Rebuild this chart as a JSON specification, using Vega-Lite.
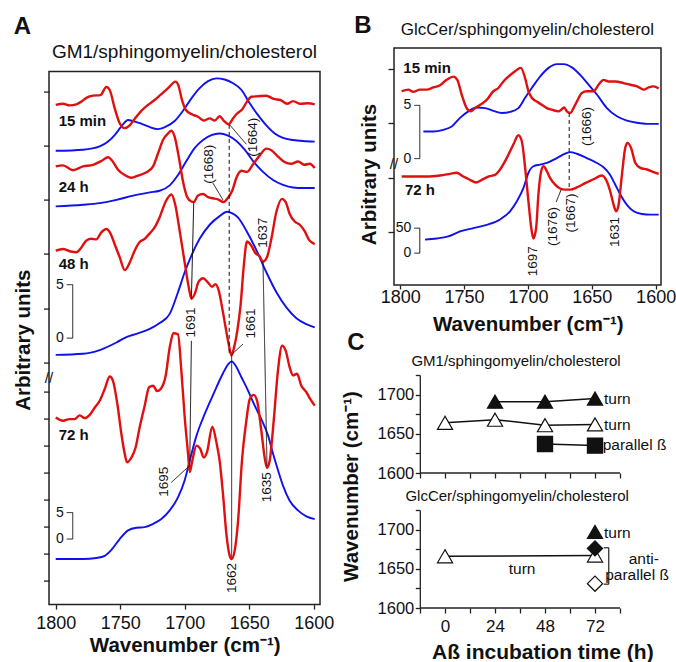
{
  "$schema": "https://vega.github.io/schema/vega-lite/v6.json",
  "padding": {"left": 12, "top": 12, "right": 0, "bottom": 0},
  "config": {
    "font": "Liberation Sans",
    "view": {"stroke": null},
    "axis": {"grid": false, "domainColor": "#222", "tickColor": "#222", "labelColor": "#111", "titleColor": "#111", "labelFont": "Liberation Sans", "titleFont": "Liberation Sans", "domainWidth": 1.3, "tickWidth": 1.3, "labelFlush": false},
    "text": {"font": "Liberation Sans", "color": "#111"}
  },
  "datasets": {
    "specA": [
      {"s":"15 min","k":"d2","wn":1800.0,"v":88.1},{"s":"15 min","k":"d2","wn":1794.3,"v":88.3},{"s":"15 min","k":"d2","wn":1789.2,"v":88.0},{"s":"15 min","k":"d2","wn":1784.0,"v":88.2},{"s":"15 min","k":"d2","wn":1780.1,"v":88.7},{"s":"15 min","k":"d2","wn":1776.2,"v":89.4},{"s":"15 min","k":"d2","wn":1771.1,"v":89.8},{"s":"15 min","k":"d2","wn":1765.4,"v":89.9},{"s":"15 min","k":"d2","wn":1760.7,"v":91.4},{"s":"15 min","k":"d2","wn":1758.2,"v":90.9},{"s":"15 min","k":"d2","wn":1754.3,"v":87.5},{"s":"15 min","k":"d2","wn":1750.4,"v":84.7},{"s":"15 min","k":"d2","wn":1746.5,"v":83.8},{"s":"15 min","k":"d2","wn":1742.6,"v":84.3},{"s":"15 min","k":"d2","wn":1738.8,"v":85.5},{"s":"15 min","k":"d2","wn":1733.6,"v":87.0},{"s":"15 min","k":"d2","wn":1728.4,"v":88.1},{"s":"15 min","k":"d2","wn":1723.3,"v":89.0},{"s":"15 min","k":"d2","wn":1718.1,"v":90.1},{"s":"15 min","k":"d2","wn":1712.9,"v":91.2},{"s":"15 min","k":"d2","wn":1707.0,"v":92.4},{"s":"15 min","k":"d2","wn":1704.9,"v":91.7},{"s":"15 min","k":"d2","wn":1702.1,"v":89.0},{"s":"15 min","k":"d2","wn":1699.2,"v":87.2},{"s":"15 min","k":"d2","wn":1694.8,"v":86.4},{"s":"15 min","k":"d2","wn":1689.7,"v":85.9},{"s":"15 min","k":"d2","wn":1685.3,"v":85.2},{"s":"15 min","k":"d2","wn":1680.6,"v":85.6},{"s":"15 min","k":"d2","wn":1676.7,"v":85.2},{"s":"15 min","k":"d2","wn":1672.9,"v":86.0},{"s":"15 min","k":"d2","wn":1669.8,"v":85.2},{"s":"15 min","k":"d2","wn":1665.9,"v":84.5},{"s":"15 min","k":"d2","wn":1662.5,"v":85.6},{"s":"15 min","k":"d2","wn":1659.4,"v":86.5},{"s":"15 min","k":"d2","wn":1655.3,"v":87.3},{"s":"15 min","k":"d2","wn":1651.7,"v":88.7},{"s":"15 min","k":"d2","wn":1648.3,"v":89.6},{"s":"15 min","k":"d2","wn":1643.1,"v":89.7},{"s":"15 min","k":"d2","wn":1636.7,"v":89.8},{"s":"15 min","k":"d2","wn":1631.0,"v":89.2},{"s":"15 min","k":"d2","wn":1625.8,"v":89.0},{"s":"15 min","k":"d2","wn":1620.6,"v":88.3},{"s":"15 min","k":"d2","wn":1616.0,"v":88.8},{"s":"15 min","k":"d2","wn":1610.3,"v":88.3},{"s":"15 min","k":"d2","wn":1604.4,"v":88.4},{"s":"15 min","k":"d2","wn":1599.2,"v":88.2},
      {"s":"15 min","k":"abs","wn":1800.0,"v":79.6},{"s":"15 min","k":"abs","wn":1778.8,"v":79.8},{"s":"15 min","k":"abs","wn":1765.9,"v":80.4},{"s":"15 min","k":"abs","wn":1759.4,"v":81.3},{"s":"15 min","k":"abs","wn":1754.3,"v":82.5},{"s":"15 min","k":"abs","wn":1749.1,"v":84.1},{"s":"15 min","k":"abs","wn":1743.9,"v":85.3},{"s":"15 min","k":"abs","wn":1740.0,"v":85.1},{"s":"15 min","k":"abs","wn":1734.9,"v":84.7},{"s":"15 min","k":"abs","wn":1728.4,"v":84.1},{"s":"15 min","k":"abs","wn":1720.7,"v":83.6},{"s":"15 min","k":"abs","wn":1714.2,"v":84.1},{"s":"15 min","k":"abs","wn":1707.8,"v":85.1},{"s":"15 min","k":"abs","wn":1701.3,"v":87.0},{"s":"15 min","k":"abs","wn":1694.8,"v":89.3},{"s":"15 min","k":"abs","wn":1688.4,"v":91.2},{"s":"15 min","k":"abs","wn":1681.9,"v":92.5},{"s":"15 min","k":"abs","wn":1675.4,"v":93.0},{"s":"15 min","k":"abs","wn":1669.0,"v":92.8},{"s":"15 min","k":"abs","wn":1662.5,"v":92.1},{"s":"15 min","k":"abs","wn":1656.1,"v":90.9},{"s":"15 min","k":"abs","wn":1649.6,"v":88.4},{"s":"15 min","k":"abs","wn":1643.1,"v":86.2},{"s":"15 min","k":"abs","wn":1636.7,"v":84.3},{"s":"15 min","k":"abs","wn":1630.2,"v":82.8},{"s":"15 min","k":"abs","wn":1623.8,"v":82.0},{"s":"15 min","k":"abs","wn":1616.0,"v":81.6},{"s":"15 min","k":"abs","wn":1608.3,"v":81.4},{"s":"15 min","k":"abs","wn":1599.2,"v":81.3},
      {"s":"24 h","k":"d2","wn":1800.0,"v":76.7},{"s":"24 h","k":"d2","wn":1794.3,"v":76.9},{"s":"24 h","k":"d2","wn":1786.6,"v":76.0},{"s":"24 h","k":"d2","wn":1778.8,"v":76.7},{"s":"24 h","k":"d2","wn":1771.1,"v":77.0},{"s":"24 h","k":"d2","wn":1764.6,"v":77.7},{"s":"24 h","k":"d2","wn":1759.4,"v":78.4},{"s":"24 h","k":"d2","wn":1756.1,"v":77.7},{"s":"24 h","k":"d2","wn":1751.7,"v":76.1},{"s":"24 h","k":"d2","wn":1746.5,"v":75.1},{"s":"24 h","k":"d2","wn":1741.3,"v":74.6},{"s":"24 h","k":"d2","wn":1736.2,"v":75.0},{"s":"24 h","k":"d2","wn":1729.7,"v":75.6},{"s":"24 h","k":"d2","wn":1724.5,"v":76.7},{"s":"24 h","k":"d2","wn":1720.7,"v":79.1},{"s":"24 h","k":"d2","wn":1716.8,"v":81.6},{"s":"24 h","k":"d2","wn":1712.9,"v":82.8},{"s":"24 h","k":"d2","wn":1710.3,"v":83.3},{"s":"24 h","k":"d2","wn":1707.8,"v":82.2},{"s":"24 h","k":"d2","wn":1704.4,"v":78.2},{"s":"24 h","k":"d2","wn":1701.3,"v":73.9},{"s":"24 h","k":"d2","wn":1698.2,"v":71.1},{"s":"24 h","k":"d2","wn":1694.8,"v":70.2},{"s":"24 h","k":"d2","wn":1693.0,"v":70.1},{"s":"24 h","k":"d2","wn":1689.7,"v":71.3},{"s":"24 h","k":"d2","wn":1685.8,"v":71.6},{"s":"24 h","k":"d2","wn":1681.9,"v":71.0},{"s":"24 h","k":"d2","wn":1678.0,"v":70.8},{"s":"24 h","k":"d2","wn":1674.2,"v":70.6},{"s":"24 h","k":"d2","wn":1669.8,"v":70.1},{"s":"24 h","k":"d2","wn":1666.4,"v":70.9},{"s":"24 h","k":"d2","wn":1663.0,"v":72.3},{"s":"24 h","k":"d2","wn":1659.9,"v":74.6},{"s":"24 h","k":"d2","wn":1656.1,"v":75.9},{"s":"24 h","k":"d2","wn":1651.7,"v":75.7},{"s":"24 h","k":"d2","wn":1647.0,"v":77.1},{"s":"24 h","k":"d2","wn":1641.9,"v":78.7},{"s":"24 h","k":"d2","wn":1636.7,"v":80.0},{"s":"24 h","k":"d2","wn":1632.8,"v":79.7},{"s":"24 h","k":"d2","wn":1627.6,"v":78.5},{"s":"24 h","k":"d2","wn":1622.5,"v":77.5},{"s":"24 h","k":"d2","wn":1617.3,"v":77.2},{"s":"24 h","k":"d2","wn":1612.1,"v":77.6},{"s":"24 h","k":"d2","wn":1607.0,"v":77.0},{"s":"24 h","k":"d2","wn":1603.1,"v":77.2},{"s":"24 h","k":"d2","wn":1599.2,"v":76.4},
      {"s":"24 h","k":"abs","wn":1800.0,"v":69.3},{"s":"24 h","k":"abs","wn":1778.8,"v":69.6},{"s":"24 h","k":"abs","wn":1765.9,"v":69.9},{"s":"24 h","k":"abs","wn":1752.9,"v":70.5},{"s":"24 h","k":"abs","wn":1740.0,"v":71.3},{"s":"24 h","k":"abs","wn":1727.1,"v":71.9},{"s":"24 h","k":"abs","wn":1719.4,"v":72.2},{"s":"24 h","k":"abs","wn":1711.6,"v":73.2},{"s":"24 h","k":"abs","wn":1705.2,"v":75.1},{"s":"24 h","k":"abs","wn":1698.7,"v":77.7},{"s":"24 h","k":"abs","wn":1692.3,"v":80.1},{"s":"24 h","k":"abs","wn":1685.8,"v":81.6},{"s":"24 h","k":"abs","wn":1679.3,"v":82.5},{"s":"24 h","k":"abs","wn":1672.9,"v":82.8},{"s":"24 h","k":"abs","wn":1666.4,"v":82.4},{"s":"24 h","k":"abs","wn":1659.9,"v":81.4},{"s":"24 h","k":"abs","wn":1653.5,"v":79.8},{"s":"24 h","k":"abs","wn":1647.0,"v":77.7},{"s":"24 h","k":"abs","wn":1639.3,"v":75.7},{"s":"24 h","k":"abs","wn":1631.5,"v":74.2},{"s":"24 h","k":"abs","wn":1623.8,"v":73.3},{"s":"24 h","k":"abs","wn":1616.0,"v":72.8},{"s":"24 h","k":"abs","wn":1608.3,"v":72.7},{"s":"24 h","k":"abs","wn":1599.2,"v":72.7},
      {"s":"48 h","k":"d2","wn":1800.0,"v":61.1},{"s":"48 h","k":"d2","wn":1794.3,"v":61.4},{"s":"48 h","k":"d2","wn":1789.2,"v":61.0},{"s":"48 h","k":"d2","wn":1784.0,"v":60.8},{"s":"48 h","k":"d2","wn":1780.1,"v":61.7},{"s":"48 h","k":"d2","wn":1776.2,"v":63.0},{"s":"48 h","k":"d2","wn":1772.3,"v":63.3},{"s":"48 h","k":"d2","wn":1768.5,"v":63.2},{"s":"48 h","k":"d2","wn":1764.6,"v":64.5},{"s":"48 h","k":"d2","wn":1760.7,"v":65.1},{"s":"48 h","k":"d2","wn":1757.6,"v":64.3},{"s":"48 h","k":"d2","wn":1754.3,"v":62.3},{"s":"48 h","k":"d2","wn":1750.4,"v":59.9},{"s":"48 h","k":"d2","wn":1746.5,"v":57.5},{"s":"48 h","k":"d2","wn":1742.6,"v":58.9},{"s":"48 h","k":"d2","wn":1738.8,"v":61.1},{"s":"48 h","k":"d2","wn":1734.9,"v":62.7},{"s":"48 h","k":"d2","wn":1731.0,"v":63.3},{"s":"48 h","k":"d2","wn":1727.1,"v":64.3},{"s":"48 h","k":"d2","wn":1723.3,"v":65.4},{"s":"48 h","k":"d2","wn":1719.4,"v":67.3},{"s":"48 h","k":"d2","wn":1714.7,"v":70.2},{"s":"48 h","k":"d2","wn":1710.3,"v":71.5},{"s":"48 h","k":"d2","wn":1707.5,"v":69.8},{"s":"48 h","k":"d2","wn":1703.9,"v":64.8},{"s":"48 h","k":"d2","wn":1700.0,"v":58.9},{"s":"48 h","k":"d2","wn":1696.6,"v":54.0},{"s":"48 h","k":"d2","wn":1694.8,"v":52.2},{"s":"48 h","k":"d2","wn":1692.2,"v":53.1},{"s":"48 h","k":"d2","wn":1689.1,"v":55.4},{"s":"48 h","k":"d2","wn":1685.8,"v":56.0},{"s":"48 h","k":"d2","wn":1681.9,"v":55.2},{"s":"48 h","k":"d2","wn":1678.8,"v":54.4},{"s":"48 h","k":"d2","wn":1676.2,"v":54.9},{"s":"48 h","k":"d2","wn":1673.6,"v":53.7},{"s":"48 h","k":"d2","wn":1671.0,"v":50.6},{"s":"48 h","k":"d2","wn":1668.5,"v":47.2},{"s":"48 h","k":"d2","wn":1665.9,"v":43.8},{"s":"48 h","k":"d2","wn":1663.8,"v":41.7},{"s":"48 h","k":"d2","wn":1661.7,"v":43.2},{"s":"48 h","k":"d2","wn":1659.2,"v":46.3},{"s":"48 h","k":"d2","wn":1656.6,"v":51.2},{"s":"48 h","k":"d2","wn":1654.3,"v":58.0},{"s":"48 h","k":"d2","wn":1651.7,"v":62.8},{"s":"48 h","k":"d2","wn":1648.3,"v":62.0},{"s":"48 h","k":"d2","wn":1645.0,"v":60.6},{"s":"48 h","k":"d2","wn":1642.4,"v":60.2},{"s":"48 h","k":"d2","wn":1639.3,"v":59.1},{"s":"48 h","k":"d2","wn":1636.2,"v":59.9},{"s":"48 h","k":"d2","wn":1632.8,"v":63.3},{"s":"48 h","k":"d2","wn":1629.0,"v":68.2},{"s":"48 h","k":"d2","wn":1624.6,"v":70.7},{"s":"48 h","k":"d2","wn":1621.7,"v":70.1},{"s":"48 h","k":"d2","wn":1618.6,"v":67.9},{"s":"48 h","k":"d2","wn":1614.7,"v":66.5},{"s":"48 h","k":"d2","wn":1610.8,"v":65.9},{"s":"48 h","k":"d2","wn":1607.0,"v":64.7},{"s":"48 h","k":"d2","wn":1603.6,"v":63.1},{"s":"48 h","k":"d2","wn":1599.2,"v":62.3},
      {"s":"48 h","k":"abs","wn":1800.0,"v":41.8},{"s":"48 h","k":"abs","wn":1778.8,"v":42.0},{"s":"48 h","k":"abs","wn":1765.9,"v":42.7},{"s":"48 h","k":"abs","wn":1752.9,"v":44.1},{"s":"48 h","k":"abs","wn":1745.2,"v":45.1},{"s":"48 h","k":"abs","wn":1737.5,"v":45.7},{"s":"48 h","k":"abs","wn":1727.1,"v":46.6},{"s":"48 h","k":"abs","wn":1719.4,"v":47.7},{"s":"48 h","k":"abs","wn":1711.6,"v":49.4},{"s":"48 h","k":"abs","wn":1705.2,"v":53.4},{"s":"48 h","k":"abs","wn":1700.0,"v":57.1},{"s":"48 h","k":"abs","wn":1694.8,"v":60.2},{"s":"48 h","k":"abs","wn":1688.4,"v":63.3},{"s":"48 h","k":"abs","wn":1680.6,"v":65.9},{"s":"48 h","k":"abs","wn":1672.9,"v":67.5},{"s":"48 h","k":"abs","wn":1667.2,"v":68.3},{"s":"48 h","k":"abs","wn":1663.0,"v":68.0},{"s":"48 h","k":"abs","wn":1658.6,"v":67.2},{"s":"48 h","k":"abs","wn":1652.2,"v":64.8},{"s":"48 h","k":"abs","wn":1644.4,"v":61.2},{"s":"48 h","k":"abs","wn":1636.7,"v":57.1},{"s":"48 h","k":"abs","wn":1628.9,"v":53.4},{"s":"48 h","k":"abs","wn":1621.2,"v":50.6},{"s":"48 h","k":"abs","wn":1613.4,"v":48.6},{"s":"48 h","k":"abs","wn":1605.7,"v":47.5},{"s":"48 h","k":"abs","wn":1599.2,"v":46.9},
      {"s":"72 h","k":"d2","wn":1800.0,"v":30.2},{"s":"72 h","k":"d2","wn":1794.3,"v":29.6},{"s":"72 h","k":"d2","wn":1789.2,"v":29.9},{"s":"72 h","k":"d2","wn":1785.3,"v":29.9},{"s":"72 h","k":"d2","wn":1781.4,"v":30.6},{"s":"72 h","k":"d2","wn":1777.5,"v":30.1},{"s":"72 h","k":"d2","wn":1773.6,"v":30.7},{"s":"72 h","k":"d2","wn":1769.8,"v":32.0},{"s":"72 h","k":"d2","wn":1765.9,"v":33.3},{"s":"72 h","k":"d2","wn":1762.0,"v":35.5},{"s":"72 h","k":"d2","wn":1758.1,"v":37.8},{"s":"72 h","k":"d2","wn":1755.6,"v":37.0},{"s":"72 h","k":"d2","wn":1752.2,"v":32.7},{"s":"72 h","k":"d2","wn":1749.1,"v":27.2},{"s":"72 h","k":"d2","wn":1746.5,"v":23.5},{"s":"72 h","k":"d2","wn":1744.7,"v":21.9},{"s":"72 h","k":"d2","wn":1741.3,"v":22.8},{"s":"72 h","k":"d2","wn":1738.0,"v":24.7},{"s":"72 h","k":"d2","wn":1734.9,"v":28.4},{"s":"72 h","k":"d2","wn":1731.0,"v":32.4},{"s":"72 h","k":"d2","wn":1727.6,"v":35.8},{"s":"72 h","k":"d2","wn":1724.5,"v":36.1},{"s":"72 h","k":"d2","wn":1721.4,"v":35.1},{"s":"72 h","k":"d2","wn":1718.6,"v":35.5},{"s":"72 h","k":"d2","wn":1714.7,"v":38.0},{"s":"72 h","k":"d2","wn":1711.6,"v":43.2},{"s":"72 h","k":"d2","wn":1708.5,"v":45.8},{"s":"72 h","k":"d2","wn":1705.2,"v":45.6},{"s":"72 h","k":"d2","wn":1702.6,"v":38.9},{"s":"72 h","k":"d2","wn":1700.0,"v":30.3},{"s":"72 h","k":"d2","wn":1697.4,"v":23.5},{"s":"72 h","k":"d2","wn":1696.1,"v":20.1},{"s":"72 h","k":"d2","wn":1694.1,"v":22.2},{"s":"72 h","k":"d2","wn":1690.9,"v":25.0},{"s":"72 h","k":"d2","wn":1687.9,"v":24.4},{"s":"72 h","k":"d2","wn":1685.3,"v":22.8},{"s":"72 h","k":"d2","wn":1682.7,"v":23.8},{"s":"72 h","k":"d2","wn":1678.6,"v":28.5},{"s":"72 h","k":"d2","wn":1675.4,"v":25.6},{"s":"72 h","k":"d2","wn":1672.9,"v":22.2},{"s":"72 h","k":"d2","wn":1670.3,"v":16.0},{"s":"72 h","k":"d2","wn":1667.7,"v":8.7},{"s":"72 h","k":"d2","wn":1665.1,"v":4.6},{"s":"72 h","k":"d2","wn":1663.6,"v":4.0},{"s":"72 h","k":"d2","wn":1661.2,"v":5.6},{"s":"72 h","k":"d2","wn":1658.6,"v":11.1},{"s":"72 h","k":"d2","wn":1655.6,"v":22.2},{"s":"72 h","k":"d2","wn":1652.2,"v":29.6},{"s":"72 h","k":"d2","wn":1649.6,"v":33.6},{"s":"72 h","k":"d2","wn":1646.5,"v":34.4},{"s":"72 h","k":"d2","wn":1643.9,"v":33.3},{"s":"72 h","k":"d2","wn":1640.6,"v":27.8},{"s":"72 h","k":"d2","wn":1638.0,"v":22.8},{"s":"72 h","k":"d2","wn":1636.2,"v":20.9},{"s":"72 h","k":"d2","wn":1634.1,"v":22.2},{"s":"72 h","k":"d2","wn":1631.0,"v":29.6},{"s":"72 h","k":"d2","wn":1627.7,"v":38.9},{"s":"72 h","k":"d2","wn":1624.5,"v":43.5},{"s":"72 h","k":"d2","wn":1621.7,"v":42.6},{"s":"72 h","k":"d2","wn":1618.6,"v":39.5},{"s":"72 h","k":"d2","wn":1616.0,"v":38.0},{"s":"72 h","k":"d2","wn":1612.9,"v":38.3},{"s":"72 h","k":"d2","wn":1609.6,"v":36.1},{"s":"72 h","k":"d2","wn":1605.7,"v":34.9},{"s":"72 h","k":"d2","wn":1602.6,"v":33.6},{"s":"72 h","k":"d2","wn":1599.2,"v":32.4},
      {"s":"72 h","k":"abs","wn":1800.0,"v":4.0},{"s":"72 h","k":"abs","wn":1778.8,"v":4.0},{"s":"72 h","k":"abs","wn":1768.5,"v":4.2},{"s":"72 h","k":"abs","wn":1762.0,"v":4.6},{"s":"72 h","k":"abs","wn":1756.8,"v":5.7},{"s":"72 h","k":"abs","wn":1750.4,"v":7.7},{"s":"72 h","k":"abs","wn":1743.9,"v":9.3},{"s":"72 h","k":"abs","wn":1737.5,"v":9.8},{"s":"72 h","k":"abs","wn":1731.0,"v":9.9},{"s":"72 h","k":"abs","wn":1724.5,"v":10.5},{"s":"72 h","k":"abs","wn":1718.1,"v":11.4},{"s":"72 h","k":"abs","wn":1711.6,"v":13.0},{"s":"72 h","k":"abs","wn":1705.2,"v":15.4},{"s":"72 h","k":"abs","wn":1700.0,"v":18.6},{"s":"72 h","k":"abs","wn":1696.1,"v":22.2},{"s":"72 h","k":"abs","wn":1690.9,"v":26.8},{"s":"72 h","k":"abs","wn":1685.8,"v":30.1},{"s":"72 h","k":"abs","wn":1680.6,"v":33.0},{"s":"72 h","k":"abs","wn":1675.4,"v":35.8},{"s":"72 h","k":"abs","wn":1670.3,"v":38.4},{"s":"72 h","k":"abs","wn":1666.2,"v":40.1},{"s":"72 h","k":"abs","wn":1663.6,"v":40.6},{"s":"72 h","k":"abs","wn":1660.5,"v":39.8},{"s":"72 h","k":"abs","wn":1656.1,"v":37.7},{"s":"72 h","k":"abs","wn":1650.9,"v":35.2},{"s":"72 h","k":"abs","wn":1645.7,"v":32.4},{"s":"72 h","k":"abs","wn":1640.6,"v":29.9},{"s":"72 h","k":"abs","wn":1635.4,"v":26.9},{"s":"72 h","k":"abs","wn":1631.5,"v":23.5},{"s":"72 h","k":"abs","wn":1627.6,"v":20.4},{"s":"72 h","k":"abs","wn":1623.8,"v":17.6},{"s":"72 h","k":"abs","wn":1618.6,"v":14.8},{"s":"72 h","k":"abs","wn":1612.2,"v":13.0},{"s":"72 h","k":"abs","wn":1605.7,"v":11.9},{"s":"72 h","k":"abs","wn":1599.2,"v":11.4}
    ],
    "specB": [
      {"s":"15 min","k":"d2","wn":1798.9,"v":35.9},{"s":"15 min","k":"d2","wn":1793.7,"v":36.2},{"s":"15 min","k":"d2","wn":1789.8,"v":35.8},{"s":"15 min","k":"d2","wn":1784.6,"v":36.2},{"s":"15 min","k":"d2","wn":1779.3,"v":36.2},{"s":"15 min","k":"d2","wn":1774.1,"v":36.6},{"s":"15 min","k":"d2","wn":1768.9,"v":37.0},{"s":"15 min","k":"d2","wn":1763.7,"v":38.0},{"s":"15 min","k":"d2","wn":1758.4,"v":38.6},{"s":"15 min","k":"d2","wn":1755.3,"v":38.0},{"s":"15 min","k":"d2","wn":1751.9,"v":35.3},{"s":"15 min","k":"d2","wn":1748.0,"v":32.8},{"s":"15 min","k":"d2","wn":1744.8,"v":32.2},{"s":"15 min","k":"d2","wn":1741.4,"v":32.8},{"s":"15 min","k":"d2","wn":1737.5,"v":33.4},{"s":"15 min","k":"d2","wn":1732.3,"v":34.3},{"s":"15 min","k":"d2","wn":1727.1,"v":35.9},{"s":"15 min","k":"d2","wn":1723.1,"v":36.5},{"s":"15 min","k":"d2","wn":1719.2,"v":37.7},{"s":"15 min","k":"d2","wn":1715.3,"v":38.6},{"s":"15 min","k":"d2","wn":1710.1,"v":39.6},{"s":"15 min","k":"d2","wn":1705.6,"v":40.2},{"s":"15 min","k":"d2","wn":1702.2,"v":38.3},{"s":"15 min","k":"d2","wn":1699.6,"v":35.9},{"s":"15 min","k":"d2","wn":1697.0,"v":34.7},{"s":"15 min","k":"d2","wn":1693.1,"v":34.0},{"s":"15 min","k":"d2","wn":1689.1,"v":33.4},{"s":"15 min","k":"d2","wn":1685.2,"v":32.8},{"s":"15 min","k":"d2","wn":1681.3,"v":32.5},{"s":"15 min","k":"d2","wn":1676.1,"v":32.2},{"s":"15 min","k":"d2","wn":1673.5,"v":32.6},{"s":"15 min","k":"d2","wn":1671.6,"v":32.9},{"s":"15 min","k":"d2","wn":1669.5,"v":32.2},{"s":"15 min","k":"d2","wn":1666.9,"v":31.9},{"s":"15 min","k":"d2","wn":1664.3,"v":32.8},{"s":"15 min","k":"d2","wn":1661.7,"v":34.0},{"s":"15 min","k":"d2","wn":1657.8,"v":35.6},{"s":"15 min","k":"d2","wn":1653.9,"v":35.9},{"s":"15 min","k":"d2","wn":1648.6,"v":35.9},{"s":"15 min","k":"d2","wn":1644.7,"v":37.1},{"s":"15 min","k":"d2","wn":1640.8,"v":38.0},{"s":"15 min","k":"d2","wn":1636.9,"v":37.7},{"s":"15 min","k":"d2","wn":1631.6,"v":37.7},{"s":"15 min","k":"d2","wn":1625.1,"v":37.4},{"s":"15 min","k":"d2","wn":1619.9,"v":37.1},{"s":"15 min","k":"d2","wn":1614.6,"v":36.8},{"s":"15 min","k":"d2","wn":1609.4,"v":36.2},{"s":"15 min","k":"d2","wn":1605.5,"v":36.6},{"s":"15 min","k":"d2","wn":1601.6,"v":36.8},{"s":"15 min","k":"d2","wn":1597.6,"v":36.4},
      {"s":"15 min","k":"abs","wn":1781.9,"v":28.5},{"s":"15 min","k":"abs","wn":1774.1,"v":28.5},{"s":"15 min","k":"abs","wn":1766.3,"v":28.8},{"s":"15 min","k":"abs","wn":1759.7,"v":29.4},{"s":"15 min","k":"abs","wn":1753.2,"v":31.0},{"s":"15 min","k":"abs","wn":1746.7,"v":32.2},{"s":"15 min","k":"abs","wn":1740.1,"v":32.9},{"s":"15 min","k":"abs","wn":1733.6,"v":32.8},{"s":"15 min","k":"abs","wn":1727.1,"v":32.3},{"s":"15 min","k":"abs","wn":1720.5,"v":31.9},{"s":"15 min","k":"abs","wn":1714.0,"v":32.1},{"s":"15 min","k":"abs","wn":1707.5,"v":32.8},{"s":"15 min","k":"abs","wn":1702.2,"v":34.7},{"s":"15 min","k":"abs","wn":1697.0,"v":36.5},{"s":"15 min","k":"abs","wn":1690.5,"v":38.6},{"s":"15 min","k":"abs","wn":1683.9,"v":40.2},{"s":"15 min","k":"abs","wn":1677.4,"v":40.9},{"s":"15 min","k":"abs","wn":1672.2,"v":40.9},{"s":"15 min","k":"abs","wn":1665.6,"v":40.3},{"s":"15 min","k":"abs","wn":1659.1,"v":38.9},{"s":"15 min","k":"abs","wn":1652.5,"v":37.1},{"s":"15 min","k":"abs","wn":1646.0,"v":35.3},{"s":"15 min","k":"abs","wn":1638.2,"v":32.8},{"s":"15 min","k":"abs","wn":1630.3,"v":31.3},{"s":"15 min","k":"abs","wn":1622.5,"v":30.5},{"s":"15 min","k":"abs","wn":1614.6,"v":30.1},{"s":"15 min","k":"abs","wn":1606.8,"v":29.9},{"s":"15 min","k":"abs","wn":1597.6,"v":29.9},
      {"s":"72 h","k":"d2","wn":1798.9,"v":20.2},{"s":"72 h","k":"d2","wn":1789.8,"v":20.2},{"s":"72 h","k":"d2","wn":1779.3,"v":20.2},{"s":"72 h","k":"d2","wn":1768.9,"v":20.4},{"s":"72 h","k":"d2","wn":1761.0,"v":20.7},{"s":"72 h","k":"d2","wn":1755.8,"v":20.9},{"s":"72 h","k":"d2","wn":1750.6,"v":20.2},{"s":"72 h","k":"d2","wn":1745.4,"v":19.6},{"s":"72 h","k":"d2","wn":1740.7,"v":19.1},{"s":"72 h","k":"d2","wn":1736.2,"v":19.6},{"s":"72 h","k":"d2","wn":1731.0,"v":20.2},{"s":"72 h","k":"d2","wn":1725.8,"v":20.5},{"s":"72 h","k":"d2","wn":1721.8,"v":21.5},{"s":"72 h","k":"d2","wn":1716.6,"v":23.6},{"s":"72 h","k":"d2","wn":1711.4,"v":26.1},{"s":"72 h","k":"d2","wn":1707.5,"v":27.8},{"s":"72 h","k":"d2","wn":1704.8,"v":26.7},{"s":"72 h","k":"d2","wn":1702.2,"v":21.8},{"s":"72 h","k":"d2","wn":1699.6,"v":15.6},{"s":"72 h","k":"d2","wn":1697.0,"v":10.1},{"s":"72 h","k":"d2","wn":1695.7,"v":8.8},{"s":"72 h","k":"d2","wn":1693.6,"v":10.7},{"s":"72 h","k":"d2","wn":1691.8,"v":16.9},{"s":"72 h","k":"d2","wn":1689.9,"v":20.9},{"s":"72 h","k":"d2","wn":1687.8,"v":22.1},{"s":"72 h","k":"d2","wn":1685.2,"v":21.2},{"s":"72 h","k":"d2","wn":1682.6,"v":19.9},{"s":"72 h","k":"d2","wn":1678.7,"v":18.7},{"s":"72 h","k":"d2","wn":1674.8,"v":18.0},{"s":"72 h","k":"d2","wn":1670.8,"v":17.8},{"s":"72 h","k":"d2","wn":1666.9,"v":17.8},{"s":"72 h","k":"d2","wn":1661.7,"v":18.2},{"s":"72 h","k":"d2","wn":1655.2,"v":19.0},{"s":"72 h","k":"d2","wn":1648.6,"v":19.7},{"s":"72 h","k":"d2","wn":1642.1,"v":20.4},{"s":"72 h","k":"d2","wn":1638.2,"v":19.3},{"s":"72 h","k":"d2","wn":1635.6,"v":17.5},{"s":"72 h","k":"d2","wn":1632.9,"v":15.0},{"s":"72 h","k":"d2","wn":1630.9,"v":13.8},{"s":"72 h","k":"d2","wn":1629.0,"v":15.0},{"s":"72 h","k":"d2","wn":1626.4,"v":20.5},{"s":"72 h","k":"d2","wn":1623.8,"v":25.5},{"s":"72 h","k":"d2","wn":1622.0,"v":26.4},{"s":"72 h","k":"d2","wn":1619.3,"v":25.5},{"s":"72 h","k":"d2","wn":1615.9,"v":22.7},{"s":"72 h","k":"d2","wn":1612.0,"v":21.8},{"s":"72 h","k":"d2","wn":1606.8,"v":21.5},{"s":"72 h","k":"d2","wn":1601.6,"v":21.0},{"s":"72 h","k":"d2","wn":1597.6,"v":20.7},
      {"s":"72 h","k":"abs","wn":1780.6,"v":8.6},{"s":"72 h","k":"abs","wn":1771.5,"v":8.8},{"s":"72 h","k":"abs","wn":1762.4,"v":9.2},{"s":"72 h","k":"abs","wn":1753.2,"v":10.1},{"s":"72 h","k":"abs","wn":1742.7,"v":10.7},{"s":"72 h","k":"abs","wn":1732.3,"v":11.3},{"s":"72 h","k":"abs","wn":1721.8,"v":12.3},{"s":"72 h","k":"abs","wn":1714.0,"v":13.8},{"s":"72 h","k":"abs","wn":1708.8,"v":15.6},{"s":"72 h","k":"abs","wn":1703.5,"v":18.1},{"s":"72 h","k":"abs","wn":1699.6,"v":20.9},{"s":"72 h","k":"abs","wn":1695.7,"v":22.1},{"s":"72 h","k":"abs","wn":1690.5,"v":22.4},{"s":"72 h","k":"abs","wn":1685.2,"v":22.7},{"s":"72 h","k":"abs","wn":1677.4,"v":23.6},{"s":"72 h","k":"abs","wn":1670.8,"v":24.4},{"s":"72 h","k":"abs","wn":1666.9,"v":24.7},{"s":"72 h","k":"abs","wn":1661.7,"v":24.4},{"s":"72 h","k":"abs","wn":1653.9,"v":23.6},{"s":"72 h","k":"abs","wn":1646.0,"v":22.7},{"s":"72 h","k":"abs","wn":1640.8,"v":21.9},{"s":"72 h","k":"abs","wn":1635.6,"v":20.5},{"s":"72 h","k":"abs","wn":1631.6,"v":18.7},{"s":"72 h","k":"abs","wn":1627.7,"v":16.9},{"s":"72 h","k":"abs","wn":1622.5,"v":15.0},{"s":"72 h","k":"abs","wn":1617.2,"v":13.8},{"s":"72 h","k":"abs","wn":1610.7,"v":13.3},{"s":"72 h","k":"abs","wn":1604.2,"v":13.2},{"s":"72 h","k":"abs","wn":1597.6,"v":13.2}
    ]
  },
  "spacing": 6,
  "hconcat": [
    {
      "spacing": -4.4,
      "vconcat": [
        {"width": 10, "height": 2, "data": {"values": [{"d": 0}]}, "mark": {"type": "rect", "opacity": 0}, "encoding": {}},
        {
          "width": 271, "height": 533,
          "view": {"stroke": "#222", "strokeWidth": 1.5},
          "encoding": {
            "x": {"field": "wn", "type": "quantitative", "scale": {"domain": [1595.1, 1805.2], "reverse": true, "nice": false, "zero": false},
                  "axis": {"values": [1800, 1750, 1700, 1650, 1600], "format": "d", "domain": false, "tickSize": 4.5, "labelPadding": 5, "labelFontSize": 18, "title": "Wavenumber (cm⁻¹)", "titleFontSize": 20.5, "titleFontWeight": "bold", "titleX": 135.7, "titleY": 41, "titleBaseline": "middle", "titleAlign": "center"}},
            "y": {"field": "v", "type": "quantitative", "scale": {"domain": [-4.44, 94.26], "nice": false, "zero": false},
                  "axis": {"values": [0, 5, 10, 15, 20, 25, 30, 35, 40.4, 50.4, 60.5, 70.5, 80.6, 90.6], "labels": false, "domain": false, "tickSize": 5.5, "title": "Arbitrary units", "titleFontSize": 20.5, "titleFontWeight": "bold", "titleX": -26, "titleY": 268, "titleAngle": 270, "titleBaseline": "middle", "titleAlign": "center"}}
          },
          "layer": [
            {"data": {"name": "specA"}, "transform": [{"filter": "datum.k === 'abs'"}], "mark": {"type": "line", "color": "#1111ee", "strokeWidth": 1.9, "interpolate": "monotone"}, "encoding": {"detail": {"field": "s"}}},
            {"data": {"name": "specA"}, "transform": [{"filter": "datum.k === 'd2'"}], "mark": {"type": "line", "color": "#e01010", "strokeWidth": 2.4, "interpolate": "monotone"}, "encoding": {"detail": {"field": "s"}}},
            {"data": {"values": [
              {"wn": 1665.5, "v": 84.4, "wn2": 1665.5, "v2": 41.7, "ln": "dashed"},
              {"wn": 1665.1, "v": 84.4, "wn2": 1652.2, "v2": 80.8, "ln": "solid"},
              {"wn": 1678.1, "v": 73.6, "wn2": 1670.3, "v2": 70.5, "ln": "solid"},
              {"wn": 1693.0, "v": 70.1, "wn2": 1694.8, "v2": 52.2, "ln": "solid"},
              {"wn": 1694.8, "v": 44.4, "wn2": 1696.1, "v2": 21.3, "ln": "solid"},
              {"wn": 1696.1, "v": 21.3, "wn2": 1710.3, "v2": 18.2, "ln": "solid"},
              {"wn": 1663.0, "v": 42.0, "wn2": 1654.8, "v2": 43.8, "ln": "solid"},
              {"wn": 1663.6, "v": 41.7, "wn2": 1663.6, "v2": 4.3, "ln": "solid"},
              {"wn": 1639.3, "v": 59.1, "wn2": 1636.2, "v2": 21.3, "ln": "solid"},
              {"wn": 1786.8, "v": 54.8, "wn2": 1786.8, "v2": 44.9, "ln": "solid"},
              {"wn": 1791.5, "v": 54.8, "wn2": 1786.8, "v2": 54.8, "ln": "solid"},
              {"wn": 1791.5, "v": 44.9, "wn2": 1786.8, "v2": 44.9, "ln": "solid"},
              {"wn": 1786.8, "v": 12.6, "wn2": 1786.8, "v2": 7.7, "ln": "solid"},
              {"wn": 1791.5, "v": 12.6, "wn2": 1786.8, "v2": 12.6, "ln": "solid"},
              {"wn": 1791.5, "v": 7.7, "wn2": 1786.8, "v2": 7.7, "ln": "solid"}
            ]}, "mark": {"type": "rule", "color": "#111", "strokeWidth": 1}, "encoding": {"x2": {"field": "wn2"}, "y2": {"field": "v2"}, "strokeDash": {"field": "ln", "type": "nominal", "scale": {"domain": ["solid", "dashed"], "range": [[1, 0], [4, 3]]}, "legend": null}}},
            {"data": {"values": [
              {"wn": 1647.0, "v": 82.1, "t": "(1664)"},
              {"wn": 1681.4, "v": 77.1, "t": "(1668)"},
              {"wn": 1695.3, "v": 47.8, "t": "1691"},
              {"wn": 1648.8, "v": 47.6, "t": "1661"},
              {"wn": 1639.0, "v": 64.4, "t": "1637"},
              {"wn": 1716.0, "v": 18.3, "t": "1695"},
              {"wn": 1635.9, "v": 17.3, "t": "1635"},
              {"wn": 1663.0, "v": 0.5, "t": "1662"}
            ]}, "mark": {"type": "text", "angle": 270, "fontSize": 13.5, "align": "center", "baseline": "middle"}, "encoding": {"text": {"field": "t"}}},
            {"data": {"values": [
              {"wn": 1797.7, "v": 85.2, "t": "15 min"},
              {"wn": 1797.7, "v": 72.8, "t": "24 h"},
              {"wn": 1797.7, "v": 58.7, "t": "48 h"},
              {"wn": 1797.7, "v": 27.0, "t": "72 h"}
            ]}, "mark": {"type": "text", "fontSize": 15, "fontWeight": "bold", "align": "left", "baseline": "middle"}, "encoding": {"text": {"field": "t"}}},
            {"data": {"values": [
              {"wn": 1793.8, "v": 54.8, "t": "5"},
              {"wn": 1793.8, "v": 44.9, "t": "0"},
              {"wn": 1793.8, "v": 12.6, "t": "5"},
              {"wn": 1793.8, "v": 7.7, "t": "0"}
            ]}, "mark": {"type": "text", "fontSize": 14, "align": "right", "baseline": "middle"}, "encoding": {"text": {"field": "t"}}},
            {"data": {"values": [{"wn": 1805.2, "v": 37.6, "t": "//"}]}, "mark": {"type": "text", "fontSize": 15, "align": "center", "baseline": "middle"}, "encoding": {"text": {"field": "t"}}},
            {"data": {"values": [{"wn": 1700.2, "v": 96.85, "t": "GM1/sphingomyelin/cholesterol"}]}, "mark": {"type": "text", "fontSize": 19, "align": "center", "baseline": "alphabetic"}, "encoding": {"text": {"field": "t"}}},
            {"data": {"values": [{"wn": 1832.6, "v": 101.2, "t": "A"}]}, "mark": {"type": "text", "fontSize": 24, "fontWeight": "bold", "align": "left", "baseline": "alphabetic"}, "encoding": {"text": {"field": "t"}}}
          ]
        }
      ]
    },
    {
      "spacing": -6,
      "vconcat": [
        {"width": 10, "height": 2, "data": {"values": [{"d": 0}]}, "mark": {"type": "rect", "opacity": 0}, "encoding": {}},
        {
          "width": 267, "height": 237,
          "view": {"stroke": "#222", "strokeWidth": 1.5},
          "encoding": {
            "x": {"field": "wn", "type": "quantitative", "scale": {"domain": [1595.8, 1804.9], "reverse": true, "nice": false, "zero": false},
                  "axis": {"values": [1800, 1750, 1700, 1650, 1600], "format": "d", "domain": false, "tickSize": 4, "labelPadding": -1, "labelFontSize": 18, "title": "Wavenumber (cm⁻¹)", "titleFontSize": 20.5, "titleFontWeight": "bold", "titleX": 133.8, "titleY": 39, "titleBaseline": "middle", "titleAlign": "center"}},
            "y": {"field": "v", "type": "quantitative", "scale": {"domain": [0.24, 43.86], "nice": false, "zero": false},
                  "axis": {"values": [10, 20, 30, 40], "labels": false, "domain": false, "tickSize": 6, "title": "Arbitrary units", "titleFontSize": 20.5, "titleFontWeight": "bold", "titleX": -24.4, "titleY": 126, "titleAngle": 270, "titleBaseline": "middle", "titleAlign": "center"}}
          },
          "layer": [
            {"data": {"name": "specB"}, "transform": [{"filter": "datum.k === 'abs'"}], "mark": {"type": "line", "color": "#1111ee", "strokeWidth": 1.9, "interpolate": "monotone"}, "encoding": {"detail": {"field": "s"}}},
            {"data": {"name": "specB"}, "transform": [{"filter": "datum.k === 'd2'"}], "mark": {"type": "line", "color": "#e01010", "strokeWidth": 2.4, "interpolate": "monotone"}, "encoding": {"detail": {"field": "s"}}},
            {"data": {"values": [
              {"wn": 1667.7, "v": 31.9, "wn2": 1667.7, "v2": 17.8, "ln": "dashed"},
              {"wn": 1677.9, "v": 15.5, "wn2": 1674.0, "v2": 17.8, "ln": "solid"},
              {"wn": 1784.7, "v": 33.3, "wn2": 1784.7, "v2": 23.5, "ln": "solid"},
              {"wn": 1789.0, "v": 33.3, "wn2": 1784.7, "v2": 33.3, "ln": "solid"},
              {"wn": 1789.0, "v": 23.5, "wn2": 1784.7, "v2": 23.5, "ln": "solid"},
              {"wn": 1784.7, "v": 10.7, "wn2": 1784.7, "v2": 6.1, "ln": "solid"},
              {"wn": 1789.0, "v": 10.7, "wn2": 1784.7, "v2": 10.7, "ln": "solid"},
              {"wn": 1789.0, "v": 6.1, "wn2": 1784.7, "v2": 6.1, "ln": "solid"}
            ]}, "mark": {"type": "rule", "color": "#111", "strokeWidth": 1}, "encoding": {"x2": {"field": "wn2"}, "y2": {"field": "v2"}, "strokeDash": {"field": "ln", "type": "nominal", "scale": {"domain": ["solid", "dashed"], "range": [[1, 0], [4, 3]]}, "legend": null}}},
            {"data": {"values": [
              {"wn": 1653.9, "v": 29.4, "t": "(1666)"},
              {"wn": 1666.4, "v": 13.5, "t": "(1667)"},
              {"wn": 1680.5, "v": 11.0, "t": "(1676)"},
              {"wn": 1696.2, "v": 4.6, "t": "1697"},
              {"wn": 1631.6, "v": 10.0, "t": "1631"}
            ]}, "mark": {"type": "text", "angle": 270, "fontSize": 13.5, "align": "center", "baseline": "middle"}, "encoding": {"text": {"field": "t"}}},
            {"data": {"values": [
              {"wn": 1797.6, "v": 40.2, "t": "15 min"},
              {"wn": 1796.3, "v": 17.8, "t": "72 h"}
            ]}, "mark": {"type": "text", "fontSize": 15, "fontWeight": "bold", "align": "left", "baseline": "middle"}, "encoding": {"text": {"field": "t"}}},
            {"data": {"values": [
              {"wn": 1791.4, "v": 33.3, "t": "5"},
              {"wn": 1791.4, "v": 23.5, "t": "0"},
              {"wn": 1791.4, "v": 10.7, "t": "50"},
              {"wn": 1791.4, "v": 6.1, "t": "0"}
            ]}, "mark": {"type": "text", "fontSize": 14, "align": "right", "baseline": "middle"}, "encoding": {"text": {"field": "t"}}},
            {"data": {"values": [{"wn": 1804.9, "v": 22.5, "t": "//"}]}, "mark": {"type": "text", "fontSize": 15, "align": "center", "baseline": "middle"}, "encoding": {"text": {"field": "t"}}},
            {"data": {"values": [{"wn": 1700.4, "v": 46.25, "t": "GlcCer/sphingomyelin/cholesterol"}]}, "mark": {"type": "text", "fontSize": 17, "align": "center", "baseline": "alphabetic"}, "encoding": {"text": {"field": "t"}}},
            {"data": {"values": [{"wn": 1836.1, "v": 46.7, "t": "B"}]}, "mark": {"type": "text", "fontSize": 24, "fontWeight": "bold", "align": "left", "baseline": "alphabetic"}, "encoding": {"text": {"field": "t"}}}
          ]
        },
        {
          "spacing": -92,
          "vconcat": [
            {
              "width": 226, "height": 98,
              "encoding": {
                "x": {"field": "t", "type": "quantitative", "scale": {"domain": [-24.5, 84], "nice": false, "zero": false}, "axis": {"values": [-12, 0, 12, 24, 36, 48, 60, 72, 84], "labels": false, "domain": false, "tickSize": 5, "title": null}},
                "y": {"field": "w", "type": "quantitative", "scale": {"domain": [1600, 1725], "nice": false, "zero": false}, "axis": {"values": [1600, 1625, 1650, 1675, 1700, 1725], "format": "d", "labelExpr": "datum.value % 50 === 0 ? datum.label : ''", "offset": -25.8, "tickSize": 4.5, "labelPadding": 1.5, "labelFontSize": 16.5, "title": null}}
              },
              "layer": [
                {"data": {"values": [{"t": -12, "t2": 84, "w": 1600}]}, "mark": {"type": "rule", "color": "#222", "strokeWidth": 1.3}, "encoding": {"x2": {"field": "t2"}}},
                {"data": {"values": [
                  {"t": 24, "w": 1691, "k": "turn-high"}, {"t": 48, "w": 1691, "k": "turn-high"}, {"t": 72, "w": 1695, "k": "turn-high"},
                  {"t": 0, "w": 1664, "k": "turn"}, {"t": 24, "w": 1668, "k": "turn"}, {"t": 48, "w": 1661, "k": "turn"}, {"t": 72, "w": 1662, "k": "turn"},
                  {"t": 48, "w": 1637, "k": "parallel"}, {"t": 72, "w": 1635, "k": "parallel"}
                ]}, "layer": [
                  {"mark": {"type": "line", "color": "#111", "strokeWidth": 1.5}, "encoding": {"detail": {"field": "k"}}},
                  {"mark": {"type": "point", "filled": true, "stroke": "#111", "strokeWidth": 1.2, "opacity": 1},
                   "encoding": {
                     "shape": {"field": "k", "type": "nominal", "scale": {"domain": ["turn-high", "turn", "parallel", "anti-high", "anti-low"], "range": ["triangle-up", "triangle-up", "square", "diamond", "diamond"]}, "legend": null},
                     "fill": {"field": "k", "type": "nominal", "scale": {"domain": ["turn-high", "turn", "parallel", "anti-high", "anti-low"], "range": ["#111", "#fff", "#111", "#111", "#fff"]}, "legend": null},
                     "size": {"field": "k", "type": "nominal", "scale": {"domain": ["turn-high", "turn", "parallel", "anti-high", "anti-low"], "range": [230, 230, 190, 150, 130]}, "legend": null}
                   }}
                ]},
                {"data": {"values": [
                  {"t": 76.3, "w": 1695, "txt": "turn"},
                  {"t": 76.3, "w": 1661, "txt": "turn"},
                  {"t": 75.7, "w": 1635.7, "txt": "parallel ß"}
                ]}, "mark": {"type": "text", "fontSize": 15.5, "align": "left", "baseline": "middle"}, "encoding": {"text": {"field": "txt"}}},
                {"data": {"values": [{"t": 34.1, "w": 1736.9, "txt": "GM1/sphingomyelin/cholesterol"}]}, "mark": {"type": "text", "fontSize": 15, "align": "center", "baseline": "alphabetic"}, "encoding": {"text": {"field": "txt"}}},
                {"data": {"values": [{"t": -47, "w": 1756.9, "txt": "C"}]}, "mark": {"type": "text", "fontSize": 24, "fontWeight": "bold", "align": "left", "baseline": "alphabetic"}, "encoding": {"text": {"field": "txt"}}}
              ]
            },
            {
              "width": 226, "height": 98,
              "encoding": {
                "x": {"field": "t", "type": "quantitative", "scale": {"domain": [-24.5, 84], "nice": false, "zero": false}, "axis": {"values": [-12, 0, 12, 24, 36, 48, 60, 72, 84], "labelExpr": "datum.value >= 0 && datum.value % 24 === 0 ? datum.label : ''", "domain": false, "tickSize": 5, "labelPadding": 5, "labelFontSize": 17, "title": "Aß incubation time (h)", "titleFontSize": 21, "titleFontWeight": "bold", "titleX": 148.3, "titleY": 44, "titleBaseline": "middle", "titleAlign": "center"}},
                "y": {"field": "w", "type": "quantitative", "scale": {"domain": [1600, 1725], "nice": false, "zero": false}, "axis": {"values": [1600, 1625, 1650, 1675, 1700, 1725], "format": "d", "labelExpr": "datum.value % 50 === 0 ? datum.label : ''", "offset": -25.8, "tickSize": 4.5, "labelPadding": 1.5, "labelFontSize": 16.5, "title": "Wavenumber (cm⁻¹)", "titleFontSize": 20.5, "titleFontWeight": "bold", "titleX": -68, "titleY": -24, "titleAngle": 270, "titleBaseline": "middle", "titleAlign": "center"}}
              },
              "layer": [
                {"data": {"values": [{"t": -12, "t2": 84, "w": 1600}]}, "mark": {"type": "rule", "color": "#222", "strokeWidth": 1.3}, "encoding": {"x2": {"field": "t2"}}},
                {"data": {"values": [
                  {"t": 78.6, "w": 1676.8, "t2": 78.6, "w2": 1630.4},
                  {"t": 76.2, "w": 1676.8, "t2": 78.6, "w2": 1676.8},
                  {"t": 76.2, "w": 1630.4, "t2": 78.6, "w2": 1630.4}
                ]}, "mark": {"type": "rule", "color": "#222", "strokeWidth": 1.2}, "encoding": {"x2": {"field": "t2"}, "y2": {"field": "w2"}}},
                {"data": {"values": [
                  {"t": 0, "w": 1666, "k": "turn"}, {"t": 72, "w": 1667, "k": "turn"},
                  {"t": 72, "w": 1697, "k": "turn-high"},
                  {"t": 72, "w": 1676, "k": "anti-high"},
                  {"t": 72, "w": 1631, "k": "anti-low"}
                ]}, "layer": [
                  {"mark": {"type": "line", "color": "#111", "strokeWidth": 1.5}, "encoding": {"detail": {"field": "k"}}},
                  {"mark": {"type": "point", "filled": true, "stroke": "#111", "strokeWidth": 1.2, "opacity": 1},
                   "encoding": {
                     "shape": {"field": "k", "type": "nominal", "scale": {"domain": ["turn-high", "turn", "parallel", "anti-high", "anti-low"], "range": ["triangle-up", "triangle-up", "square", "diamond", "diamond"]}, "legend": null},
                     "fill": {"field": "k", "type": "nominal", "scale": {"domain": ["turn-high", "turn", "parallel", "anti-high", "anti-low"], "range": ["#111", "#fff", "#111", "#111", "#fff"]}, "legend": null},
                     "size": {"field": "k", "type": "nominal", "scale": {"domain": ["turn-high", "turn", "parallel", "anti-high", "anti-low"], "range": [230, 230, 190, 150, 130]}, "legend": null}
                   }}
                ]},
                {"data": {"values": [
                  {"t": 76.3, "w": 1696, "txt": "turn"}
                ]}, "mark": {"type": "text", "fontSize": 15.5, "align": "left", "baseline": "middle"}, "encoding": {"text": {"field": "txt"}}},
                {"data": {"values": [
                  {"t": 37, "w": 1649.5, "txt": "turn"},
                  {"t": 95.4, "w": 1662.5, "txt": "anti-"},
                  {"t": 92.2, "w": 1642.5, "txt": "parallel ß"}
                ]}, "mark": {"type": "text", "fontSize": 15.5, "align": "center", "baseline": "middle"}, "encoding": {"text": {"field": "txt"}}},
                {"data": {"values": [{"t": 34.6, "w": 1736.9, "txt": "GlcCer/sphingomyelin/cholesterol"}]}, "mark": {"type": "text", "fontSize": 15, "align": "center", "baseline": "alphabetic"}, "encoding": {"text": {"field": "txt"}}}
              ]
            }
          ]
        }
      ]
    }
  ]
}
